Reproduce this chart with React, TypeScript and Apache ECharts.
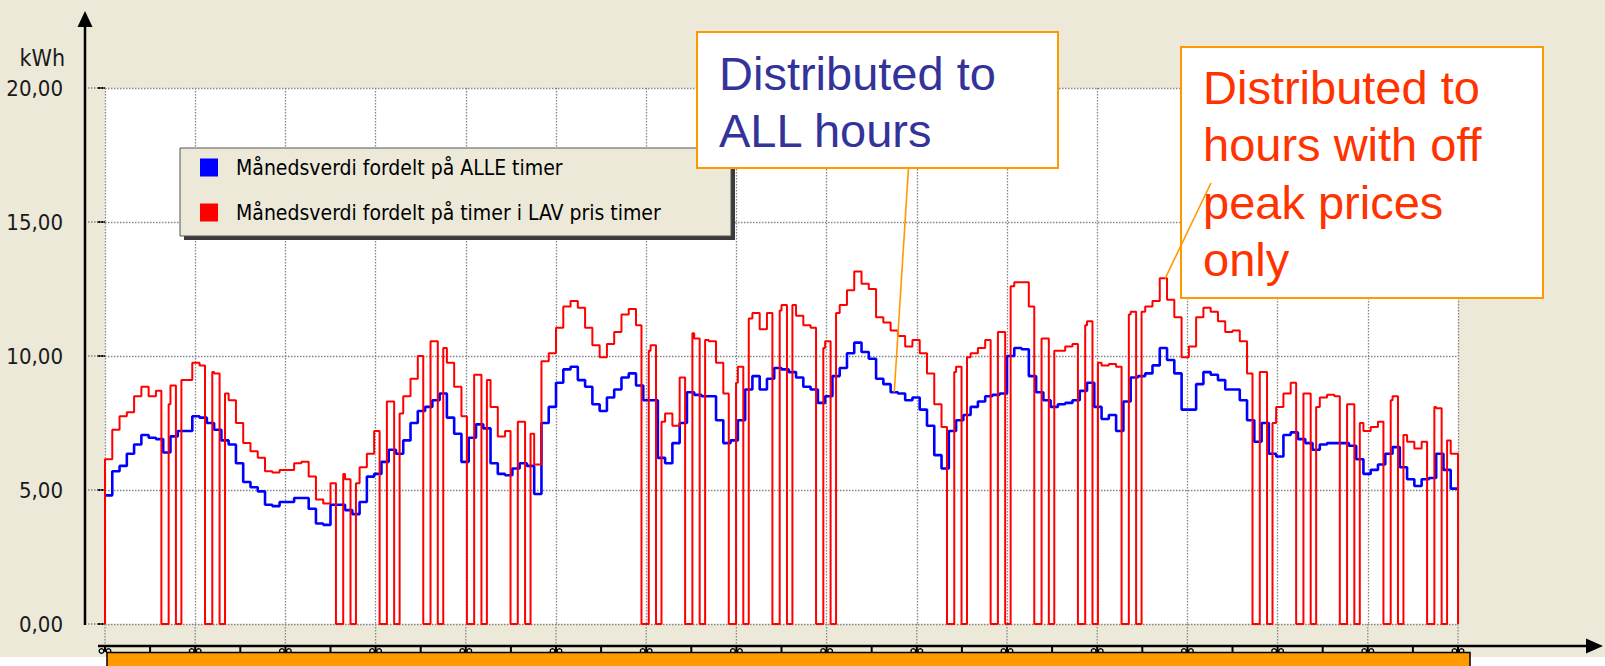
import React, { useEffect, useRef } from 'react';
import * as echarts from 'echarts';

// ---- data ----
const MONTH_HOURS = 744; // 31 days, hourly
const SLOT_HOURS = 4; // values read every 4 hours
const X_GRID_INTERVAL = 49.6; // 15 grid intervals over the month
const X_TICK_STEP = 24.8; // 30 small ticks over the month

const seriesNames = [
  'Månedsverdi fordelt på ALLE timer',
  'Månedsverdi fordelt på timer i LAV pris timer',
];
const yUnit = 'kWh';

// blue: monthly value distributed to all hours (kWh), 6 values per day
const blueKwh = [
  4.8, 5.7, 5.9, 6.35, 6.7, 7.05,
  6.95, 6.9, 6.4, 7.0, 7.2, 7.2,
  7.75, 7.7, 7.5, 7.25, 6.85, 6.7,
  6.0, 5.3, 5.1, 4.95, 4.45, 4.4,
  4.55, 4.55, 4.7, 4.7, 4.3, 3.75,
  3.7, 4.45, 4.45, 4.25, 4.1, 4.55,
  5.5, 5.6, 6.05, 6.5, 6.35, 6.85,
  7.5, 7.95, 8.1, 8.35, 8.6, 7.7,
  7.1, 6.05, 6.95, 7.45, 7.3, 6.0,
  5.6, 5.55, 5.8, 6.0, 5.9, 4.85,
  7.5, 8.1, 9.0, 9.5, 9.6, 9.1,
  8.85, 8.2, 7.95, 8.45, 8.75, 9.2,
  9.35, 8.9, 8.35, 8.35, 6.2, 6.0,
  6.75, 7.5, 8.65, 8.55, 8.5, 8.5,
  7.6, 6.75, 6.85, 7.6, 8.75, 9.25,
  8.75, 9.15, 9.55, 9.5, 9.4, 9.2,
  8.85, 8.75, 8.25, 8.5, 9.25, 9.55,
  10.1, 10.5, 10.15, 9.9, 9.15, 8.95,
  8.65, 8.6, 8.35, 8.45, 8.0, 7.4,
  6.3, 5.8, 7.2, 7.6, 7.8, 8.1,
  8.3, 8.5, 8.55, 8.6, 10.0, 10.3,
  10.25, 9.25, 8.65, 8.35, 8.1, 8.2,
  8.25, 8.35, 8.7, 9.0, 8.1, 7.65,
  7.8, 7.2, 8.3, 9.2, 9.25, 9.35,
  9.65, 10.3, 9.85, 9.35, 8.0, 8.0,
  8.95, 9.4, 9.3, 9.1, 8.75, 8.75,
  8.35, 7.6, 6.8, 7.5, 6.35, 6.25,
  7.05, 7.15, 6.9, 6.75, 6.5, 6.7,
  6.75, 6.75, 6.75, 6.65, 6.15, 5.6,
  5.75, 5.95, 6.35, 6.6, 5.85, 5.4,
  5.15, 5.4, 5.45, 6.35, 5.75, 5.05,
];

// red: level in the low-price hours (kWh), 6 values per day
const redKwh = [
  6.15, 7.25, 7.75, 7.9, 8.5, 8.85,
  8.5, 8.7, 8.2, 8.9, 9.1, 9.1,
  9.75, 9.65, 9.4, 9.35, 8.6, 8.35,
  7.5, 6.75, 6.45, 6.2, 5.7, 5.65,
  5.75, 5.75, 6.0, 6.05, 5.5, 4.65,
  4.5, 5.25, 5.6, 5.4, 5.25, 5.85,
  6.35, 7.2, 8.3, 8.3, 7.85, 8.5,
  9.15, 10.0, 10.55, 10.55, 10.3, 9.75,
  8.85, 7.75, 9.3, 9.3, 9.1, 8.1,
  7.0, 7.2, 7.55, 7.55, 7.1, 5.95,
  9.8, 10.1, 11.05, 11.85, 12.05, 11.8,
  11.05, 10.4, 9.95, 10.45, 10.9, 11.55,
  11.75, 11.15, 10.2, 10.4, 7.55, 7.85,
  7.4, 9.2, 10.85, 10.65, 10.6, 10.55,
  9.75, 8.6, 9.0, 9.6, 11.4, 11.6,
  11.0, 11.6, 11.7, 11.9, 11.9, 11.5,
  11.15, 11.05, 10.3, 10.55, 11.6, 11.9,
  12.45, 13.15, 12.7, 12.5, 11.45, 11.25,
  10.95, 10.75, 10.35, 10.6, 10.1, 9.35,
  8.2, 7.35, 9.4, 9.6, 9.95, 10.1,
  10.3, 10.6, 10.9, 10.9, 12.6, 12.75,
  12.75, 11.85, 10.65, 10.65, 10.2, 10.2,
  10.35, 10.45, 11.15, 11.3, 9.75, 9.65,
  9.7, 9.6, 11.55, 11.65, 11.65, 11.85,
  12.05, 12.9, 12.1, 11.45, 9.95, 10.35,
  11.45, 11.8, 11.65, 11.3, 10.9, 10.95,
  10.55, 9.35, 9.4, 9.4, 7.5, 8.1,
  8.6, 9.0, 8.6, 8.6, 8.1, 8.45,
  8.55, 8.5, 8.2, 8.2, 7.5, 7.2,
  7.35, 7.55, 8.35, 8.5, 7.05, 6.8,
  6.55, 6.8, 8.1, 8.05, 6.85, 6.35,
];
const redStartKwh = 0;
const redEndKwh = 0;

// days (0 = first day) with peak-price hours, and the peak hours (red = 0)
const peakDays = [1, 2, 5, 6, 7, 8, 9, 12, 13, 14, 15, 16, 19, 20, 21, 22, 23, 26, 27, 28, 29, 30];
const peakHours = [7, 8, 9, 10, 15, 16, 17];

const yTicks = [0, 5, 10, 15, 20];

const noteAll = ['Distributed to', 'ALL hours'];
const noteOffPeak = ['Distributed to', 'hours with off', 'peak prices', 'only'];
const noteAllAnchorHour = 434;
const noteOffPeakAnchorHour = 583;

// ---- series built from the arrays ----
const blueData: number[][] = blueKwh.map((v, k) => [k * SLOT_HOURS, v]);
blueData.push([MONTH_HOURS, blueKwh[blueKwh.length - 1]]);

const redData: number[][] = [[0, redStartKwh]];
for (let h = 0; h < MONTH_HOURS; h++) {
  const day = Math.floor(h / 24);
  const hod = h % 24;
  const v = peakDays.includes(day) && peakHours.includes(hod) ? 0 : redKwh[Math.floor(h / SLOT_HOURS)];
  redData.push([h, v]);
}
redData.push([MONTH_HOURS, redKwh[redKwh.length - 1]]);
redData.push([MONTH_HOURS, redEndKwh]);

const FONT = "'DejaVu Sans Condensed', 'DejaVu Sans', sans-serif";
const NOTE_FONT = "'Liberation Sans', Arial, sans-serif";
const GRID_STYLE = { color: '#858585', type: [1.5, 1.5] as any, width: 1.3 };
const BEIGE = '#ECE9D8';

export default function App() {
  const ref = useRef<HTMLDivElement>(null);
  useEffect(() => {
    const chart = echarts.init(ref.current!, null, { renderer: 'svg' });
    chart.setOption({
      animation: false,
      backgroundColor: BEIGE,
      color: ['#0000FF', '#FF0000'],
      grid: { left: 105, top: 88, width: 1353, height: 536, show: true, backgroundColor: '#ffffff', borderWidth: 0 },
      xAxis: {
        type: 'value', min: 0, max: MONTH_HOURS, interval: X_GRID_INTERVAL,
        axisLine: { show: false }, axisTick: { show: false }, axisLabel: { show: false },
        splitLine: { show: true, showMinLine: true, showMaxLine: true, lineStyle: GRID_STYLE },
      },
      yAxis: {
        type: 'value', min: 0, max: 20, interval: 5, offset: 20,
        axisLine: { show: false },
        axisTick: { show: true, length: 8, lineStyle: { color: '#000', width: 2 } },
        axisLabel: {
          margin: 22, fontSize: 22, fontFamily: FONT, color: '#1a1a1a',
          formatter: (v: number) => v.toFixed(2).replace('.', ','),
        },
        splitLine: { show: true, lineStyle: GRID_STYLE },
      },
      legend: {
        orient: 'vertical', left: 200, top: 157, padding: 0, itemWidth: 18, itemHeight: 18, itemGap: 24,
        selectedMode: false, icon: 'rect', z: 5,
        textStyle: { fontSize: 21, fontFamily: FONT, color: '#000', padding: [0, 0, 0, 13] },
        data: [
          { name: seriesNames[0], icon: 'rect', itemStyle: { color: '#0000FF' } },
          { name: seriesNames[1], icon: 'rect', itemStyle: { color: '#FF0000' } },
        ],
      },
      series: [
        {
          name: seriesNames[0], type: 'line', step: 'end', data: blueData, showSymbol: false,
          lineStyle: { color: '#0000FF', width: 2.6 }, itemStyle: { color: '#0000FF' }, z: 2,
        },
        {
          name: seriesNames[1], type: 'line', step: 'end', data: redData, showSymbol: false,
          lineStyle: { color: '#FF0000', width: 2 }, itemStyle: { color: '#FF0000' }, z: 3,
        },
      ],
    });

    const px = (x: number, y: number) => chart.convertToPixel({ gridIndex: 0 }, [x, y]) as number[];
    const [x0, y0] = px(0, 0);
    const [xEnd, yTop] = px(MONTH_HOURS, 20);
    const yAxisX = x0 - 20;
    const xAxisY = y0 + 22;
    const g: any[] = [];

    // page strip below the chart picture
    g.push({ type: 'rect', shape: { x: 0, y: 657, width: 1605, height: 12 }, style: { fill: '#ffffff' }, z: 1 });

    // unit label above the value axis
    g.push({ type: 'text', x: 65, y: yTop - 30, style: { text: yUnit, fill: '#1a1a1a', fontSize: 23, fontFamily: FONT, align: 'right', verticalAlign: 'middle' }, z: 6 });

    // grid extensions
    yTicks.forEach((v) => {
      const y = px(0, v)[1];
      g.push({ type: 'line', shape: { x1: yAxisX + 3, y1: y, x2: x0, y2: y }, style: { stroke: GRID_STYLE.color, lineWidth: GRID_STYLE.width, lineDash: [1.5, 1.5] }, z: 1 });
    });
    for (let i = 0; i * X_GRID_INTERVAL <= MONTH_HOURS + 0.01; i++) {
      const x = px(i * X_GRID_INTERVAL, 0)[0];
      g.push({ type: 'line', shape: { x1: x, y1: y0, x2: x, y2: xAxisY }, style: { stroke: GRID_STYLE.color, lineWidth: GRID_STYLE.width, lineDash: [1.5, 1.5] }, z: 1 });
    }

    // axes with arrows
    g.push({ type: 'line', shape: { x1: yAxisX, y1: 20, x2: yAxisX, y2: y0 + 1 }, style: { stroke: '#000', lineWidth: 2.5 }, z: 6 });
    g.push({ type: 'polygon', shape: { points: [[yAxisX, 11], [yAxisX - 7.5, 27], [yAxisX + 7.5, 27]] }, style: { fill: '#000' }, z: 6 });
    g.push({ type: 'line', shape: { x1: x0 - 7, y1: xAxisY, x2: 1590, y2: xAxisY }, style: { stroke: '#000', lineWidth: 2.5 }, z: 6 });
    g.push({ type: 'polygon', shape: { points: [[1603, xAxisY], [1586, xAxisY - 7.5], [1586, xAxisY + 7.5]] }, style: { fill: '#000' }, z: 6 });
    for (let k = 0; k * X_TICK_STEP <= MONTH_HOURS + 0.01; k++) {
      const x = px(k * X_TICK_STEP, 0)[0];
      g.push({ type: 'line', shape: { x1: x, y1: xAxisY, x2: x, y2: xAxisY + 6 }, style: { stroke: '#000', lineWidth: 2 }, z: 6 });
      if (k % 2 === 0) {
        // tops of the (covered) date labels under the major ticks
        g.push({ type: 'ring', shape: { cx: x - 3.5, cy: xAxisY + 5, r: 3, r0: 1.6 }, style: { fill: '#000' }, z: 6 });
        g.push({ type: 'ring', shape: { cx: x + 3.5, cy: xAxisY + 5, r: 3, r0: 1.6 }, style: { fill: '#000' }, z: 6 });
      }
    }

    // orange bar at the bottom
    g.push({ type: 'rect', shape: { x: x0 + 2, y: xAxisY + 6.5, width: xEnd + 10 - x0, height: 20 }, style: { fill: '#FF9900', stroke: '#000', lineWidth: 1.5 }, z: 7 });

    // legend frame with shadow
    g.push({ type: 'rect', shape: { x: 184, y: 152, width: 551, height: 88 }, style: { fill: '#3a3a3a' }, z: 3 });
    g.push({ type: 'rect', shape: { x: 180, y: 148, width: 551, height: 88 }, style: { fill: BEIGE, stroke: '#555', lineWidth: 1 }, z: 3 });

    // note: all hours
    g.push({ type: 'rect', shape: { x: 697, y: 32, width: 361, height: 136 }, style: { fill: '#fff', stroke: '#FF9900', lineWidth: 2 }, z: 10 });
    noteAll.forEach((t, i) => {
      g.push({ type: 'text', x: 719, y: 73.5 + i * 57, style: { text: t, fill: '#333399', font: `47px ${NOTE_FONT}`, textVerticalAlign: 'middle', verticalAlign: 'middle' }, z: 11 });
    });
    const aAll = px(noteAllAnchorHour, blueKwh[Math.floor(noteAllAnchorHour / SLOT_HOURS)]);
    g.push({ type: 'line', shape: { x1: 908.5, y1: 168, x2: aAll[0], y2: aAll[1] }, style: { stroke: '#FF9900', lineWidth: 1.6 }, z: 11 });

    // note: off peak hours
    g.push({ type: 'rect', shape: { x: 1181, y: 47, width: 362, height: 251 }, style: { fill: '#fff', stroke: '#FF9900', lineWidth: 2 }, z: 10 });
    noteOffPeak.forEach((t, i) => {
      g.push({ type: 'text', x: 1203, y: 87.5 + i * 57.3, style: { text: t, fill: '#FF3300', font: `47px ${NOTE_FONT}`, textVerticalAlign: 'middle', verticalAlign: 'middle' }, z: 11 });
    });
    const aOff = px(noteOffPeakAnchorHour, redKwh[Math.floor(noteOffPeakAnchorHour / SLOT_HOURS)]);
    g.push({ type: 'line', shape: { x1: 1211, y1: 183, x2: aOff[0], y2: aOff[1] }, style: { stroke: '#FF9900', lineWidth: 1.6 }, z: 11 });

    chart.setOption({ graphic: g });
    return () => chart.dispose();
  }, []);
  return <div ref={ref} style={{ position: 'absolute', left: 0, top: 0, width: 1605, height: 666 }} />;
}
